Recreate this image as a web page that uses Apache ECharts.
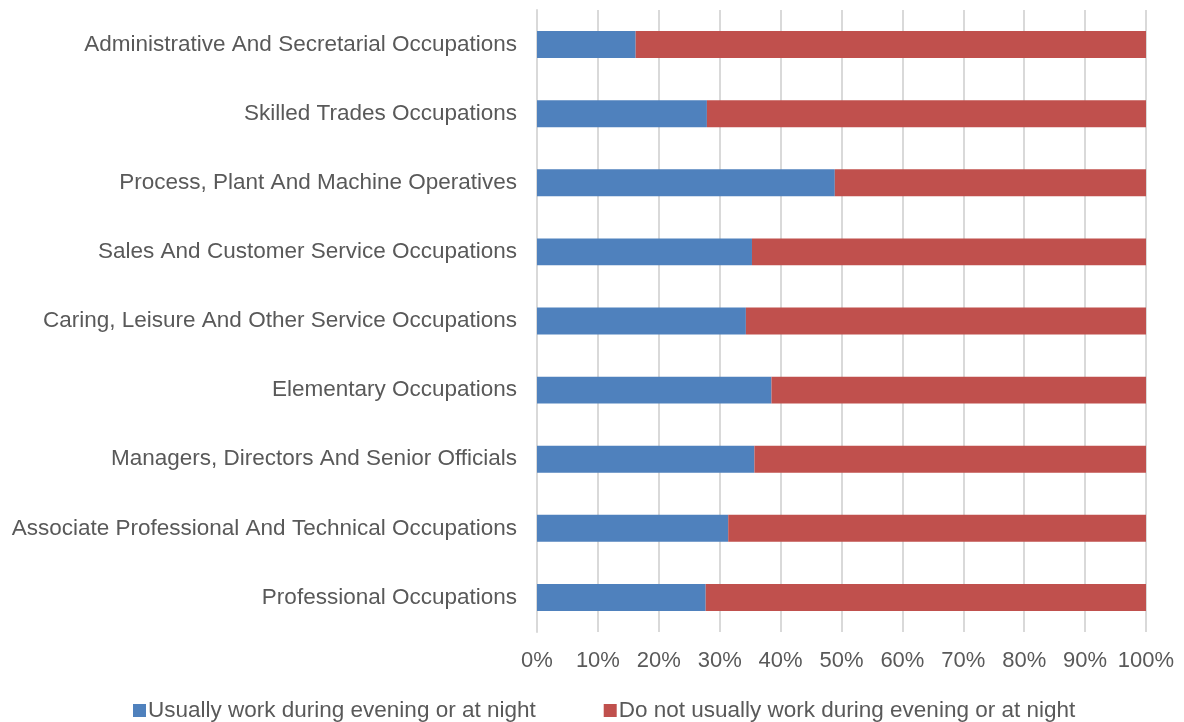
<!DOCTYPE html>
<html>
<head>
<meta charset="utf-8">
<script src="https://cdn.jsdelivr.net/npm/echarts@6/dist/echarts.min.js"></script>
<style>
  html, body { margin: 0; padding: 0; background: #fff; }
  #main { width: 1184px; height: 722px; }
</style>
</head>
<body>
<div id="main"></div>
<script>
var categories = [
    'Administrative And Secretarial Occupations',
    'Skilled Trades Occupations',
    'Process, Plant And Machine Operatives',
    'Sales And Customer Service Occupations',
    'Caring, Leisure And Other Service Occupations',
    'Elementary Occupations',
    'Managers, Directors And Senior Officials',
    'Associate Professional And Technical Occupations',
    'Professional Occupations'
];
var usuallyNight = [16.2, 27.9, 48.9, 35.3, 34.3, 38.5, 35.7, 31.4, 27.7];
var notUsuallyNight = [83.8, 72.1, 51.1, 64.7, 65.7, 61.5, 64.3, 68.6, 72.3];
var seriesNames = ['Usually work during evening or at night', 'Do not usually work during evening or at night'];
var seriesColors = ['#4F81BD', '#C0504D'];

var myChart = echarts.init(document.getElementById('main'));

var option = {
    animation: false,
    textStyle: { fontFamily: 'Liberation Sans, Arial, sans-serif' },
    grid: {
        left: 537,
        right: 38,
        top: 10,
        bottom: 90
    },
    legend: {
        top: 694,
        left: 128,
        itemWidth: 13,
        itemHeight: 13,
        itemGap: 68,
        icon: 'rect',
        textStyle: { color: '#595959', fontSize: 22.5, padding: [0, 0, 0, -3] },
        data: seriesNames
    },
    xAxis: {
        type: 'value',
        min: 0,
        max: 100,
        interval: 10,
        axisLabel: {
            formatter: '{value}%',
            color: '#595959',
            fontSize: 22,
            margin: 18
        },
        axisLine: { show: false },
        axisTick: { show: false },
        splitLine: { lineStyle: { color: '#d9d9d9', width: 2 } }
    },
    yAxis: {
        type: 'category',
        inverse: true,
        data: categories,
        axisLabel: {
            color: '#595959',
            fontSize: 22.5,
            margin: 20
        },
        axisTick: { show: false },
        axisLine: { lineStyle: { color: '#d9d9d9', width: 2 } }
    },
    series: [
        {
            name: seriesNames[0],
            type: 'bar',
            stack: 'total',
            barWidth: '39%',
            data: usuallyNight,
            itemStyle: { color: seriesColors[0] }
        },
        {
            name: seriesNames[1],
            type: 'bar',
            stack: 'total',
            barWidth: '39%',
            data: notUsuallyNight,
            itemStyle: { color: seriesColors[1] }
        }
    ]
};

myChart.setOption(option);
window.addEventListener('resize', function () {
    myChart.resize();
});
</script>
</body>
</html>
